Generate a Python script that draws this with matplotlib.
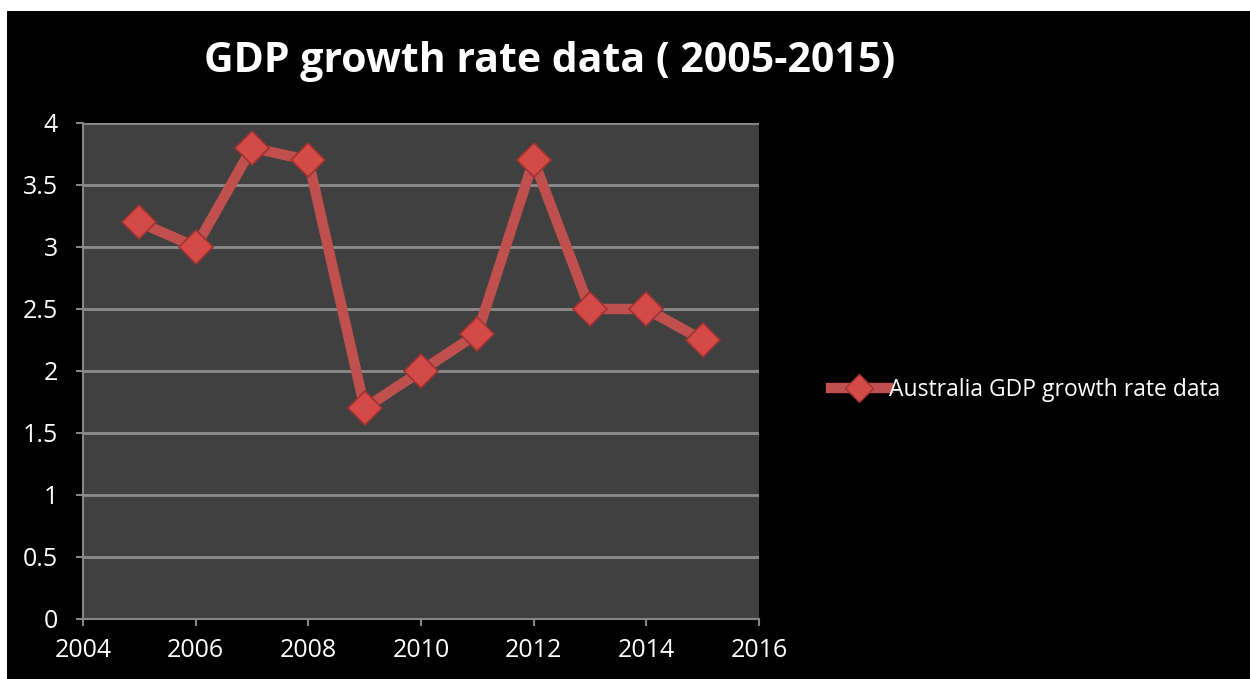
import matplotlib.pyplot as plt
from matplotlib.patches import Rectangle
from matplotlib.lines import Line2D

years = [2005, 2006, 2007, 2008, 2009, 2010, 2011, 2012, 2013, 2014, 2015]
growth = [3.2, 3.0, 3.8, 3.7, 1.7, 2.0, 2.3, 3.7, 2.5, 2.5, 2.25]
series_name = "Australia GDP growth rate data"
x_ticks = [2004, 2006, 2008, 2010, 2012, 2014, 2016]
y_ticks = [0, 0.5, 1, 1.5, 2, 2.5, 3, 3.5, 4]

plt.rcParams['font.family'] = ['Open Sans', 'DejaVu Sans']

red = '#c0504d'
fig = plt.figure(figsize=(12.5, 6.79), dpi=100, facecolor='white')
# black chart area with a thin white margin on the top and left
fig.patches.append(Rectangle((7 / 1250, 0), 1, 1 - 11 / 679, transform=fig.transFigure,
                             facecolor='black', edgecolor='none', zorder=-10))

ax = fig.add_axes([83 / 1250, 1 - 619 / 679, 676 / 1250, 496 / 679])
ax.set_facecolor('#404040')
ax.plot(years, growth, color=red, lw=7.5, solid_joinstyle='miter', zorder=3)
ax.plot(years, growth, ls='none', marker='D', ms=17, mfc='#d44a47', mec='#9e3331',
        mew=1.2, zorder=4)

ax.set_xlim(2004, 2016)
ax.set_ylim(0, 4)
ax.set_xticks(x_ticks)
ax.set_yticks(y_ticks)
ax.set_yticklabels([('%g' % v) for v in y_ticks])
ax.grid(axis='y', color='#8c8c8c', lw=2)
ax.set_axisbelow(True)
for s in ['top', 'right']:
    ax.spines[s].set_visible(False)
for s in ['left', 'bottom']:
    ax.spines[s].set_color('#868686')
    ax.spines[s].set_linewidth(1.5)
ax.tick_params(colors='#868686', labelcolor='white', labelsize=18, length=5, width=1.5)
ax.tick_params(axis='x', pad=9)
ax.tick_params(axis='y', pad=13)

fig.text(0.44, 1 - 62 / 679, "GDP growth rate data ( 2005-2015)", color='white',
         fontsize=29.5, fontweight='bold', ha='center', va='center')

handle = Line2D([], [], color=red, lw=7.5, marker='D', ms=14, mfc='#d44a47', mec='#9e3331')
fig.legend([handle], [series_name], loc='center left', bbox_to_anchor=(810 / 1250, 1 - 390 / 679),
           frameon=False, labelcolor='white', fontsize=16.5, handlelength=2.5, handletextpad=0.05)

fig.savefig('out.png', dpi=100, facecolor=fig.get_facecolor())
